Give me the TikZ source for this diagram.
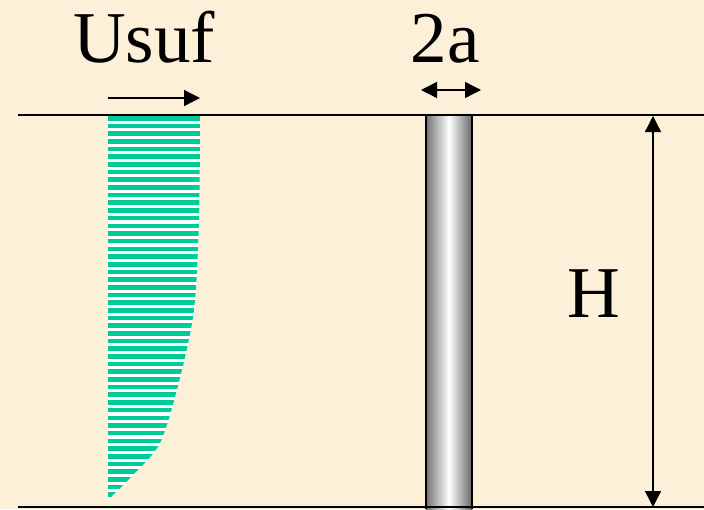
\documentclass[tikz,border=0pt]{standalone}
\usepackage{fontspec}
\setmainfont{Liberation Serif}
\newfontfamily\timesfont{Liberation Serif}
\usetikzlibrary{arrows.meta}
\definecolor{paper}{RGB}{252,241,216}
\definecolor{flow}{RGB}{0,204,153}
\tikzset{
  bigtxt/.style={font=\timesfont\fontsize{73}{73}\selectfont, inner sep=0pt, anchor=base},
  wall/.style={line width=1.6pt},
  arr/.style={-{Triangle[length=16pt, width=16pt]}, line width=1.3pt},
  darr/.style={{Triangle[length=16pt, width=16pt]}-{Triangle[length=16pt, width=16pt]}, line width=1.3pt},
  pile/.style={left color=black!55, right color=black!60, middle color=white},
}
\begin{document}
\begin{tikzpicture}[x=1pt, y=-1pt]
\fill[paper] (0,0) rectangle (704,509);
\useasboundingbox (0,0) rectangle (704,509);
% velocity profile
\begin{scope}
\clip (108,116) -- plot[smooth] coordinates {(200,116) (199,220) (194,310) (179,382) (160,443) (133,475) (108,500)} -- cycle;
\fill[white] (100,110) rectangle (210,505);
\foreach \k in {0,...,49}
  \fill[flow] (100,116+7.68*\k) rectangle (210,116+7.68*\k+4.6);
\end{scope}
% pile
\shade[pile] (426,115) rectangle (472,509);
\draw[wall] (426,115) -- (426,509) (472,115) -- (472,509);
% bed lines
\coordinate (topL) at (18,115);
\coordinate (topR) at (704,115);
\coordinate (botL) at (18,507);
\coordinate (botR) at (704,507);
\draw[wall] (topL) -- (topR);
\draw[wall] (botL) -- (botR);
% labels
\node[bigtxt] (usuf) at (144,62) {Usuf};
\node[bigtxt] (gap) at (445,62) {2a};
\node[bigtxt] (depth) at (594,317) {H};
\coordinate (uL) at (108,98);
\coordinate (uR) at (200,98);
\draw[arr] (uL) -- (uR);
\coordinate (aL) at (421,90);
\coordinate (aR) at (481,90);
\draw[darr] (aL) -- (aR);
\coordinate (hT) at (653,116);
\coordinate (hB) at (653,507);
\draw[darr] (hT) -- (hB);
\end{tikzpicture}
\end{document}
